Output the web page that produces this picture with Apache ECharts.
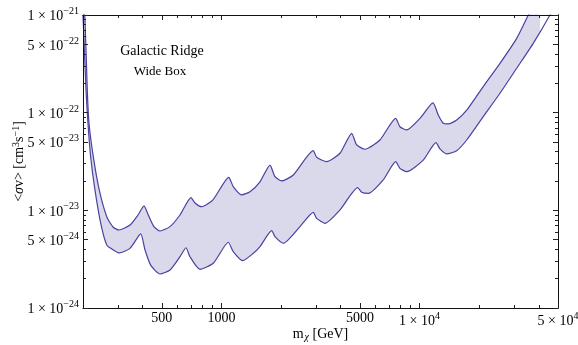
<!DOCTYPE html>
<html>
<head>
<meta charset="utf-8">
<script src="https://cdn.jsdelivr.net/npm/echarts@6/dist/echarts.min.js"></script>
<style>
  html, body { margin: 0; padding: 0; background: #fff; }
  #chart { width: 578px; height: 345px; }
</style>
</head>
<body>
<div id="chart"></div>
<script>
// upper edge of the band
var upperMass = [200, 204.7, 210.2, 214.5, 225.4, 241.7, 263.6, 283.4, 304, 345.4, 379.1, 406.4, 427.2, 456.4, 489.5, 549.9, 617.4, 701.8, 735.2, 794.6, 905.8, 1088, 1147, 1265, 1393, 1565, 1758, 1863, 2014, 2305, 2907, 3024, 3399, 3966, 4544, 4816, 5305, 6311, 7577, 7962, 8610, 10050, 11690, 12430, 13180, 13960, 15400, 17300, 20970, 25470, 30930, 35400, 40550];
var upperSigma = [1.63e-21, 8.89e-22, 1.71e-22, 7.78e-23, 3.54e-23, 1.61e-23, 8.61e-24, 6.75e-24, 6.29e-24, 7.08e-24, 8.96e-24, 1.11e-23, 8.96e-24, 6.81e-24, 6.14e-24, 6.81e-24, 8.96e-24, 1.35e-23, 1.19e-23, 1.09e-23, 1.28e-23, 2.18e-23, 1.75e-23, 1.44e-23, 1.55e-23, 1.96e-23, 2.91e-23, 2.21e-23, 2.00e-23, 2.30e-23, 4.08e-23, 3.49e-23, 3.15e-23, 3.84e-23, 6.15e-23, 4.67e-23, 4.22e-23, 5.25e-23, 8.75e-23, 7.18e-23, 6.65e-23, 8.75e-23, 1.26e-22, 9.46e-23, 7.78e-23, 7.66e-23, 8.41e-23, 1.06e-22, 1.85e-22, 3.20e-22, 5.77e-22, 1.0e-21, 1.74e-21];

// lower edge of the band
var lowerMass = [200, 207.1, 211.9, 218.6, 229.9, 245.8, 263.6, 284.5, 305, 345.4, 391.2, 411.3, 439.3, 489.5, 549.9, 617.4, 662.1, 693.4, 779, 909, 1083, 1147, 1280, 1448, 1565, 1793, 1863, 2052, 2491, 2907, 3024, 3332, 3966, 4873, 5105, 5511, 6559, 7577, 7962, 8610, 10440, 12100, 12680, 13700, 15400, 17300, 20970, 25470, 30930, 37500, 45540, 50000];
var lowerSigma = [1.0e-21, 1.71e-22, 7.78e-23, 3.54e-23, 1.61e-23, 7.36e-24, 4.42e-24, 3.93e-24, 3.66e-24, 4.08e-24, 5.73e-24, 3.93e-24, 2.75e-24, 2.23e-24, 2.45e-24, 3.35e-24, 4.14e-24, 3.35e-24, 2.49e-24, 2.87e-24, 4.71e-24, 3.77e-24, 3.05e-24, 3.63e-24, 4.25e-24, 6.19e-24, 5.37e-24, 4.60e-24, 6.81e-24, 9.55e-24, 8.28e-24, 7.36e-24, 1.01e-23, 1.71e-23, 1.53e-23, 1.49e-23, 2.05e-23, 3.15e-23, 2.69e-23, 2.49e-23, 3.27e-23, 4.93e-23, 4.25e-23, 3.78e-23, 4.08e-23, 5.25e-23, 9.10e-23, 1.58e-22, 2.85e-22, 5.13e-22, 1.0e-21, 1.46e-21];

// axes
var xRange = [200, 50000];
var yRange = [1e-24, 1e-21];
var xMajorTicks = [500, 1000, 5000, 10000, 50000];
var xMinorTicks = [300, 400, 600, 700, 800, 900, 2000, 3000, 4000, 6000, 7000, 8000, 9000, 20000, 30000, 40000];
var yMajorTicks = [1e-24, 5e-24, 1e-23, 5e-23, 1e-22, 5e-22, 1e-21];
var yMinorMantissa = [2, 3, 4, 6, 7, 8, 9];
var yMinorDecades = [-24, -23, -22];

var FONT = '"Liberation Serif", "DejaVu Serif", serif';
var LINE = '#4a41a0';
var FILL = '#d9d9eb';

var log = Math.log10;
var yMinorTicks = [];
yMinorDecades.forEach(function (d) {
  yMinorMantissa.forEach(function (m) { yMinorTicks.push(m * Math.pow(10, d)); });
});

function pairs(ms, vs) {
  return ms.map(function (m, i) { return [log(m), log(vs[i])]; });
}

function sci(v) {
  var k = Math.floor(v + 1e-6);
  var mant = Math.round(Math.pow(10, v - k));
  var exp = k < 0 ? '\u2212' + (-k) : '' + k;
  return '{n|' + mant + ' \u00d7 10}{s|' + exp + '}';
}

var labelRich = {
  n: { fontFamily: FONT, fontSize: 14, color: '#000', verticalAlign: 'bottom' },
  s: { fontFamily: FONT, fontSize: 10, color: '#000', verticalAlign: 'bottom', padding: [0, 0, 7, 0] }
};

function xAxisCfg(pos, ticks, len, labels) {
  return {
    type: 'value', position: pos, z: 5,
    min: log(xRange[0]), max: log(xRange[1]),
    splitLine: { show: false },
    axisLine: { show: labels || pos === 'top', onZero: false, lineStyle: { color: '#111', width: 1 } },
    axisTick: { show: true, inside: true, length: len, customValues: ticks.map(log), lineStyle: { color: '#222' } },
    axisLabel: labels ? {
      show: true, margin: 3, customValues: ticks.map(log),
      formatter: function (v) { return v < 4 - 1e-6 ? '{n|' + Math.round(Math.pow(10, v)) + '}' : sci(v); },
      rich: labelRich
    } : { show: false }
  };
}

function yAxisCfg(pos, ticks, len, labels) {
  return {
    type: 'value', position: pos, z: 5,
    min: log(yRange[0]), max: log(yRange[1]),
    splitLine: { show: false },
    axisLine: { show: labels || pos === 'right', onZero: false, lineStyle: { color: '#111', width: 1 } },
    axisTick: { show: true, inside: true, length: len, customValues: ticks.map(log), lineStyle: { color: '#222' } },
    axisLabel: labels ? {
      show: true, margin: 4, customValues: ticks.map(log),
      formatter: sci, rich: labelRich
    } : { show: false }
  };
}

var chart = echarts.init(document.getElementById('chart'), null, { renderer: 'canvas' });

var xMain = xAxisCfg('bottom', xMajorTicks, 5, true);
xMain.name = 'm{sub|\u03c7} [GeV]';
xMain.nameLocation = 'middle';
xMain.nameGap = 18;
xMain.nameMoveOverlap = false;
xMain.nameTextStyle = {
  fontFamily: FONT, fontSize: 14, color: '#000',
  rich: { sub: { fontFamily: FONT, fontSize: 10, fontStyle: 'italic', color: '#000', verticalAlign: 'top', padding: [6, 0, 0, 1] } }
};

var yMain = yAxisCfg('left', yMajorTicks, 5, true);
yMain.name = '<{i|\u03c3}v> [cm{sup|3}s{sup|\u22121}]';
yMain.nameLocation = 'middle';
yMain.nameGap = 56;
yMain.nameMoveOverlap = false;
yMain.nameTextStyle = {
  fontFamily: FONT, fontSize: 14, color: '#000',
  rich: {
    i: { fontFamily: FONT, fontSize: 14, fontStyle: 'italic', color: '#000' },
    sup: { fontFamily: FONT, fontSize: 10, color: '#000', verticalAlign: 'bottom', padding: [0, 0, 6, 0] }
  }
};

var option = {
  animation: false,
  backgroundColor: '#fff',
  grid: { left: 83, right: 20, top: 15, bottom: 37, containLabel: false, outerBoundsMode: 'none' },
  xAxis: [
    xMain,
    xAxisCfg('bottom', xMinorTicks, 3, false),
    xAxisCfg('top', xMajorTicks, 5, false),
    xAxisCfg('top', xMinorTicks, 3, false)
  ],
  yAxis: [
    yMain,
    yAxisCfg('left', yMinorTicks, 3, false),
    yAxisCfg('right', yMajorTicks, 5, false),
    yAxisCfg('right', yMinorTicks, 3, false)
  ],
  graphic: [
    { type: 'text', x: 162, y: 51, z: 10, style: { text: 'Galactic Ridge', font: '14px ' + FONT, fill: '#000', align: 'center', verticalAlign: 'middle', textAlign: 'center', textVerticalAlign: 'middle' } },
    { type: 'text', x: 160, y: 72, z: 10, style: { text: 'Wide Box', font: '13px ' + FONT, fill: '#000', align: 'center', verticalAlign: 'middle', textAlign: 'center', textVerticalAlign: 'middle' } }
  ],
  series: [
    {
      name: 'upper', type: 'line', xAxisIndex: 0, yAxisIndex: 0,
      data: pairs(upperMass, upperSigma),
      smooth: 0.2, showSymbol: false, clip: true,
      lineStyle: { color: LINE, width: 1.2 },
      areaStyle: { color: FILL, opacity: 1, origin: 'start' }
    },
    {
      name: 'lower', type: 'line', xAxisIndex: 0, yAxisIndex: 0,
      data: pairs(lowerMass, lowerSigma),
      smooth: 0.2, showSymbol: false, clip: true,
      lineStyle: { color: LINE, width: 1.2 },
      areaStyle: { color: '#fff', opacity: 1, origin: 'start' }
    }
  ]
};

chart.setOption(option);
</script>
</body>
</html>
